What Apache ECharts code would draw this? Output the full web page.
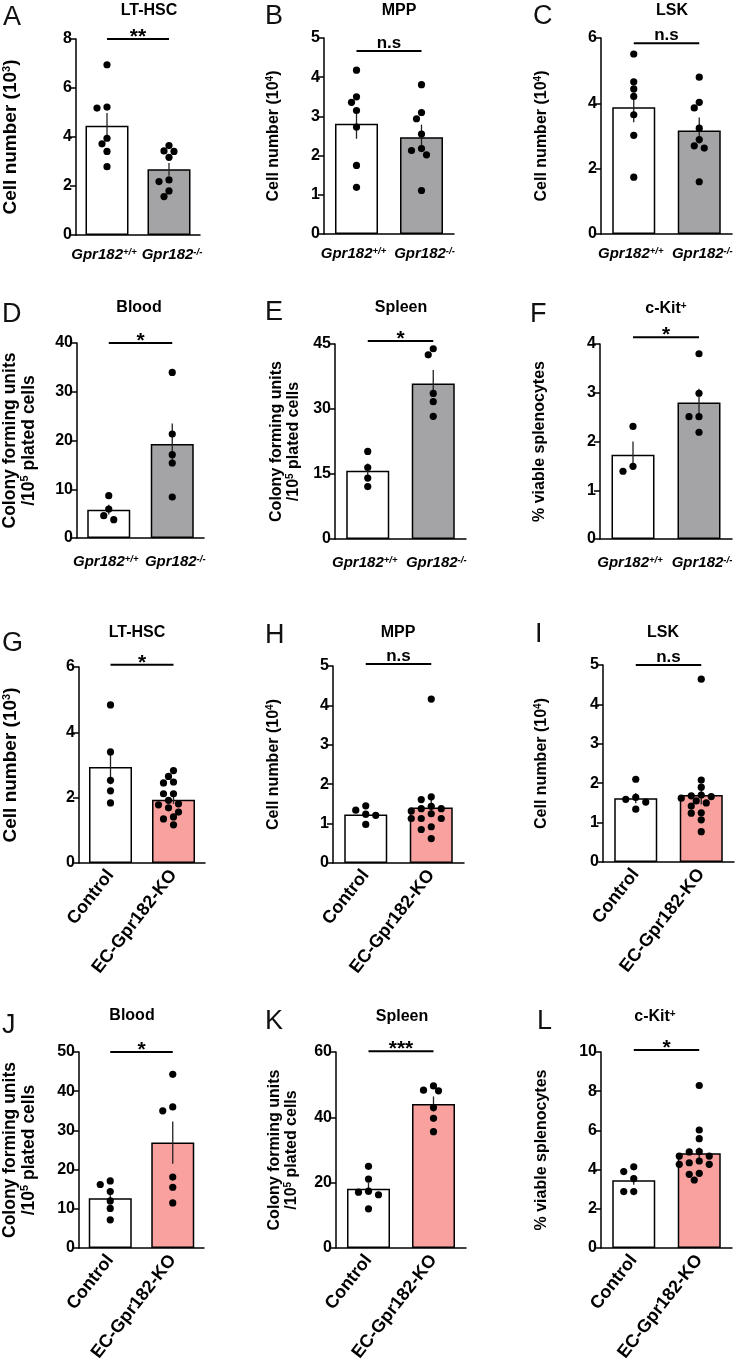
<!DOCTYPE html>
<html><head><meta charset="utf-8">
<script src="https://cdn.jsdelivr.net/npm/echarts@6/dist/echarts.min.js"></script>
<style>html,body{margin:0;padding:0;background:#fff}#c{width:737px;height:1365px}</style>
</head><body><div id="c"></div>
<script>
// ---------------- data ----------------
const panelLetters = ['A','B','C','D','E','F','G','H','I','J','K','L'];
const panelTitles = ['LT-HSC','MPP','LSK','Blood','Spleen','c-Kit+','LT-HSC','MPP','LSK','Blood','Spleen','c-Kit+'];
const groupsGpr = ['Gpr182+/+','Gpr182-/-'];
const groupsEC = ['Control','EC-Gpr182-KO'];
const yNames = [
  'Cell number (10{s|3})','Cell number (10{s|4})','Cell number (10{s|4})',
  'Colony forming units\n/10{s|5} plated cells','Colony forming units\n/10{s|5} plated cells','% viable splenocytes',
  'Cell number (10{s|3})','Cell number (10{s|4})','Cell number (10{s|4})',
  'Colony forming units\n/10{s|5} plated cells','Colony forming units\n/10{s|5} plated cells','% viable splenocytes'
];
const yMax  = [8, 5, 6, 40, 45, 4, 6, 5, 5, 50, 60, 10];
const yStep = [2, 1, 2, 10, 15, 1, 2, 1, 1, 10, 20, 2];
const sigLabels = ['**','n.s','n.s','*','*','*','*','n.s','n.s','*','***','*'];
const sigLevel  = [8, 4.67, 5.84, 40, 45.7, 4.14, 6.07, 5.05, 5.0, 50, 60.2, 10.1];

const A_wt = [6.95,5.22,5.18,3.95,3.72,3.41,2.79];
const A_ko = [3.65,3.43,3.41,3.17,2.25,2.18,1.80,1.57];
const A_mean = [4.46,2.68], A_sem = [0.52,0.26];

const B_wt = [4.18,3.50,3.36,3.15,2.73,1.75,1.19];
const B_ko = [3.81,3.10,2.94,2.55,2.18,2.13,2.02,1.11];
const B_mean = [2.81,2.47], B_sem = [0.38,0.32];

const C_wt = [5.51,4.66,4.44,4.21,3.65,3.02,1.74];
const C_ko = [4.80,4.03,3.86,3.24,2.89,2.70,2.63,1.60];
const C_mean = [3.88,3.17], C_sem = [0.46,0.40];

const D_wt = [8.68,5.95,4.58,3.76];
const D_ko = [33.97,21.33,17.09,15.38,8.41];
const D_mean = [5.81,19.28], D_sem = [1.0,4.2];

const E_wt = [20.2,16.5,14.05,12.1];
const E_ko = [43.9,42.5,33.6,31.7,28.3];
const E_mean = [15.74,35.9], E_sem = [1.7,3.1];

const F_wt = [2.31,1.49,1.39];
const F_ko = [3.80,2.99,2.51,2.51,2.19];
const F_mean = [1.73,2.80], F_sem = [0.27,0.28];

const G_wt = [4.84,3.40,2.53,2.21,1.84];
const G_ko = [2.83,2.65,2.48,2.45,2.12,2.12,1.92,1.81,1.78,1.69,1.56,1.41,1.35,1.17];
const G_mean = [2.94,1.94], G_sem = [0.53,0.13];

const H_wt = [1.45,1.34,1.24,1.21,0.98];
const H_ko = [4.16,1.68,1.61,1.44,1.38,1.38,1.32,1.25,1.13,1.13,1.13,0.92,0.85,0.62];
const H_mean = [1.23,1.41], H_sem = [0.08,0.22];

const I_wt = [2.10,1.64,1.59,1.52,1.34];
const I_ko = [4.64,2.08,1.90,1.70,1.68,1.66,1.62,1.55,1.50,1.42,1.25,1.24,1.07,0.77];
const I_mean = [1.62,1.70], I_sem = [0.13,0.24];

const J_wt = [17.1,16.2,14.4,12.0,10.1,7.2];
const J_ko = [44.3,36.0,35.0,18.1,15.5,11.5];
const J_mean = [12.7,26.9], J_sem = [1.6,5.4];

const K_wt = [25.0,21.1,17.4,17.1,16.3,12.0];
const K_ko = [49.6,48.3,48.1,43.0,39.7,35.6];
const K_mean = [18.1,44.1], K_sem = [1.8,2.3];

const L_wt = [4.14,3.90,3.54,2.88,2.88];
const L_ko = [8.29,6.02,5.58,4.92,4.90,4.69,4.69,4.44,4.35,4.27,4.27,3.81,3.76,3.47];
const L_mean = [3.46,4.83], L_sem = [0.23,0.30];

// ---------------- assembly ----------------
const panels = [
  {wt:A_wt, ko:A_ko, mean:A_mean, sem:A_sem},
  {wt:B_wt, ko:B_ko, mean:B_mean, sem:B_sem},
  {wt:C_wt, ko:C_ko, mean:C_mean, sem:C_sem},
  {wt:D_wt, ko:D_ko, mean:D_mean, sem:D_sem},
  {wt:E_wt, ko:E_ko, mean:E_mean, sem:E_sem},
  {wt:F_wt, ko:F_ko, mean:F_mean, sem:F_sem},
  {wt:G_wt, ko:G_ko, mean:G_mean, sem:G_sem},
  {wt:H_wt, ko:H_ko, mean:H_mean, sem:H_sem},
  {wt:I_wt, ko:I_ko, mean:I_mean, sem:I_sem},
  {wt:J_wt, ko:J_ko, mean:J_mean, sem:J_sem},
  {wt:K_wt, ko:K_ko, mean:K_mean, sem:K_sem},
  {wt:L_wt, ko:L_ko, mean:L_mean, sem:L_sem}
];

const layout = [
  {g:[71,39,129,196],  gap:55, nf:19,   letter:[3,18],    title:[149,11],   xm:12},
  {g:[324,38,130,196], gap:42, nf:16,   letter:[265,17],  title:[399,11],   xm:12},
  {g:[601,38,131,196], gap:51, nf:16,   letter:[533,17],  title:[672,11],   xm:12},
  {g:[74,343,130,195], gap:39, nf:17.5, letter:[2,315],   title:[139,308],  xm:16},
  {g:[335,344,131,195],gap:33, nf:16,   letter:[265,313], title:[401,308],  xm:16},
  {g:[600,344,132,195],gap:52, nf:16,   letter:[530,315], title:[666,309],  xm:16},
  {g:[74,667,131,196], gap:58, nf:19,   letter:[2,644],   title:[137,633],  xm:9},
  {g:[333,666,131,197],gap:51, nf:16,   letter:[265,636], title:[398,633],  xm:9},
  {g:[603,665,131,197],gap:53, nf:16,   letter:[535,635], title:[663,633],  xm:9},
  {g:[74,1052,130,196],gap:41, nf:17.5, letter:[2,1026],  title:[132,1016], xm:9},
  {g:[336,1052,130,196],gap:36,nf:16,   letter:[265,1022],title:[402,1017], xm:9},
  {g:[601,1052,131,196],gap:51,nf:16,   letter:[537,1022],title:[655,1017], xm:9}
];

const FONT = "'Liberation Sans', Arial, Helvetica, sans-serif";
const GRAY = '#A4A4A7', PINK = '#F8A19F';
const DOT_R = 3.6, STEP = 5, MIN_D = 7;

function swarmOffsets(vals, c, api) {
  const placed = [], offs = [];
  vals.forEach(v => {
    const y = api.coord([c, v])[1];
    for (let k = 0; k < 40; k++) {
      const off = k === 0 ? 0 : (k % 2 ? -1 : 1) * Math.ceil(k / 2) * STEP;
      let ok = true;
      for (const p of placed) {
        const dx = off - p.off, dy = y - p.y;
        if (dx * dx + dy * dy < MIN_D * MIN_D) { ok = false; break; }
      }
      if (ok) { placed.push({off, y}); offs.push(off); break; }
    }
  });
  return offs;
}

function supFmt(v, idx) {
  const m = v.match(/^(.*?)([+\-]\/[+\-])$/);
  if (!m) return v;
  return idx === 0 ? '{i0|' + m[1] + '}{s0|' + m[2] + '}' : '{i1|' + m[1] + '}{s1|' + m[2] + '}';
}

const grid = [], xAxis = [], yAxis = [], series = [], graphic = [];

panels.forEach((p, i) => {
  const L = layout[i];
  const topRows = i < 6;
  grid.push({left:L.g[0], top:L.g[1], width:L.g[2], height:L.g[3]});

  const xLabel = {
    interval:0, margin:L.xm, color:'#000', fontFamily:FONT, fontWeight:'bold',
    fontSize: topRows ? 15 : 18, rotate: topRows ? 0 : 52
  };
  if (topRows) {
    xLabel.formatter = supFmt;
    const base = {fontStyle:'italic', fontWeight:'bold', fontSize:15, fontFamily:FONT, color:'#000'};
    const sup = {fontStyle:'italic', fontWeight:'bold', fontSize:9.5, fontFamily:FONT, color:'#000', verticalAlign:'top'};
    xLabel.rich = {
      i0:base, s0:Object.assign({}, sup, {padding:[0,6,0,0]}),
      i1:Object.assign({}, base, {padding:[0,0,0,6]}), s1:sup
    };
  }
  xAxis.push({
    type:'category', gridIndex:i, data: topRows ? groupsGpr : groupsEC,
    axisLine:{lineStyle:{color:'#000', width:1.5}}, axisTick:{show:false},
    axisLabel:xLabel
  });

  yAxis.push({
    type:'value', gridIndex:i, min:0, max:yMax[i], interval:yStep[i],
    name:yNames[i], nameLocation:'middle', nameRotate:90, nameGap:L.gap,
    nameTextStyle:{color:'#000', fontFamily:FONT, fontSize:L.nf, fontWeight:'bold', lineHeight:L.nf + 1,
      rich:{s:{fontSize:Math.round(L.nf * 0.6), fontWeight:'bold', fontFamily:FONT, color:'#000', verticalAlign:'top'}}},
    axisLine:{show:true, lineStyle:{color:'#000', width:1.5}},
    axisTick:{show:true, length:6, lineStyle:{color:'#000', width:1.5}},
    axisLabel:{color:'#000', fontFamily:FONT, fontSize:16, fontWeight:'bold', margin:4},
    splitLine:{show:false}
  });

  const koColor = topRows ? GRAY : PINK;
  series.push({
    type:'bar', xAxisIndex:i, yAxisIndex:i, barWidth:43, z:2, silent:true,
    itemStyle:{borderColor:'#000', borderWidth:1.5},
    data: p.mean.map((m, c) => ({value:m, itemStyle:{color: c === 0 ? '#fff' : koColor}}))
  });

  series.push({
    type:'custom', xAxisIndex:i, yAxisIndex:i, z:4, silent:true,
    data: p.mean.map((m, c) => [c, m, p.sem[c]]),
    renderItem:(params, api) => {
      const c = api.value(0), m = api.value(1), s = api.value(2);
      const a = api.coord([c, m - s]), b = api.coord([c, m + s]);
      return {type:'line', shape:{x1:a[0], y1:a[1], x2:b[0], y2:b[1]}, style:{stroke:'#222', lineWidth:1.3}};
    }
  });

  [p.wt, p.ko].forEach((vals, c) => {
    series.push({
      type:'custom', xAxisIndex:i, yAxisIndex:i, z:5, silent:true,
      data: vals.map(v => [c, v]),
      renderItem:(params, api) => {
        const offs = swarmOffsets(vals, c, api);
        const pt = api.coord([api.value(0), api.value(1)]);
        return {type:'circle', shape:{cx:pt[0] + offs[params.dataIndex], cy:pt[1], r:DOT_R}, style:{fill:'#000'}};
      }
    });
  });

  series.push({
    type:'custom', xAxisIndex:i, yAxisIndex:i, z:5, silent:true,
    data:[[0, sigLevel[i]]],
    renderItem:(params, api) => {
      const y = api.value(1);
      const a = api.coord([0, y]), b = api.coord([1, y]);
      const lab = sigLabels[i], star = lab.indexOf('*') >= 0;
      return {type:'group', children:[
        {type:'line', shape:{x1:a[0], y1:a[1], x2:b[0], y2:b[1]}, style:{stroke:'#000', lineWidth:2}},
        {type:'text', x:(a[0] + b[0]) / 2, y:a[1] - (star ? 2 : 8),
          style:{text:lab, fill:'#000', fontSize: star ? 21 : 17, fontWeight:'bold', fontFamily:FONT, align:'center', verticalAlign:'middle'}}
      ]};
    }
  });

  graphic.push({type:'text', x:L.letter[0], y:L.letter[1], silent:true,
    style:{text:panelLetters[i], fill:'#111', fontSize:27, fontFamily:FONT, fontWeight:'normal', align:'left', verticalAlign:'middle'}});

  const t = panelTitles[i];
  const tText = t.endsWith('+') ? '{t|' + t.slice(0, -1) + '}{s|+}' : '{t|' + t + '}';
  graphic.push({type:'text', x:L.title[0], y:L.title[1], silent:true,
    style:{text:tText, align:'center', verticalAlign:'middle',
      rich:{t:{fontSize:16, fontWeight:'bold', fontFamily:FONT, fill:'#000'},
            s:{fontSize:10, fontWeight:'bold', fontFamily:FONT, fill:'#000', verticalAlign:'top'}}}});
});

const chart = echarts.init(document.getElementById('c'), null, {renderer:'canvas'});
chart.setOption({animation:false, backgroundColor:'#fff', grid, xAxis, yAxis, series, graphic});
</script>
</body></html>
